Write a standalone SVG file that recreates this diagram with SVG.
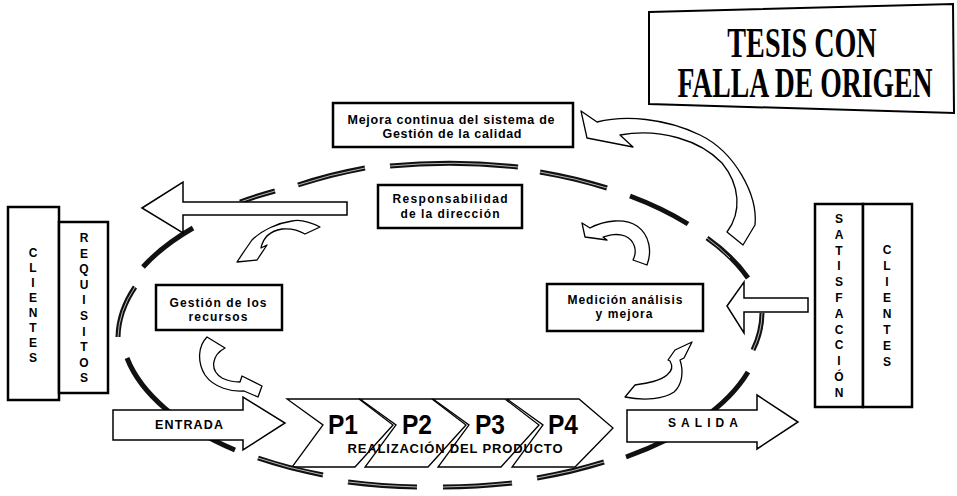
<svg xmlns="http://www.w3.org/2000/svg" width="957" height="496" viewBox="0 0 957 496">
<style>
  .box{fill:#fff;stroke:#000;stroke-width:2.5}
  .arw{fill:#fff;stroke:#000;stroke-width:1.5;stroke-linejoin:miter}
  .cur{fill:#fff;stroke:#000;stroke-width:1.3;stroke-linejoin:round}
  .chev{fill:#fff;stroke:#000;stroke-width:1.3}
  .lbl{font-family:"Liberation Sans",Arial,sans-serif;font-weight:bold;fill:#000;text-anchor:middle}
  .vt{font-family:"Liberation Sans",Arial,sans-serif;font-weight:bold;font-size:12px;fill:#000;text-anchor:middle}
  .pl{font-family:"Liberation Sans",Arial,sans-serif;font-weight:bold;font-size:28px;fill:#000}
  .stamp{font-family:"Liberation Serif","Times New Roman",serif;font-weight:bold;font-size:42px;fill:#000;text-anchor:middle}
  .d{fill:none;stroke:#111;stroke-width:5}
  .dw{fill:none;stroke:#fff;stroke-width:0.7}
</style>
<rect width="957" height="496" fill="#fff"/>

<!-- stamp -->
<g id="stamp">
  <polygon points="649,12 953,4 954,113 649,104" fill="#fff" stroke="#000" stroke-width="2"/>
  <text class="stamp" transform="translate(802,57) scale(0.67,1)" x="0" y="0">TESIS CON</text>
  <text class="stamp" transform="translate(805,97) scale(0.66,1)" x="0" y="0">FALLA DE ORIGEN</text>
</g>

<!-- product realisation chevrons -->
<g id="realizacion">
  <polygon class="chev" points="287,399 359,399 393,425 355,467 292,467 323,425"/>
  <polygon class="chev" points="360,399 432,399 466,425 428,467 365,467 396,425"/>
  <polygon class="chev" points="433,399 505,399 539,425 501,467 438,467 469,425"/>
  <polygon class="chev" points="507,399 579,399 613,428 575,467 512,467 543,425"/>
  <text class="pl" x="328" y="434" textLength="30" lengthAdjust="spacingAndGlyphs">P1</text>
  <text class="pl" x="402" y="434" textLength="30" lengthAdjust="spacingAndGlyphs">P2</text>
  <text class="pl" x="475" y="434" textLength="30" lengthAdjust="spacingAndGlyphs">P3</text>
  <text class="pl" x="548" y="434" textLength="30" lengthAdjust="spacingAndGlyphs">P4</text>
  <text class="lbl" x="455" y="453" font-size="13" textLength="215" lengthAdjust="spacing">REALIZACIÓN DEL PRODUCTO</text>
</g>

<!-- dashed cycle ellipse -->
<g id="connectors">
  <path class="d" d="M298,185 A323,161 0 0,1 365,168"/>
  <path class="d" d="M390,166 A323,161 0 0,1 518,167"/>
  <path class="d" d="M540,172 A323,161 0 0,1 607,188"/>
  <path class="d" d="M630,196 A323,161 0 0,1 688,224"/>
  <path class="d" d="M707,238 A323,161 0 0,1 748,278"/>
  <path class="d" d="M762,313 A323,161 0 0,1 753,350"/>
  <path class="d" d="M748,372 A323,161 0 0,1 626,457"/>
  <path class="d" d="M604,462 A323,161 0 0,1 537,478"/>
  <path class="d" d="M512,483 A323,161 0 0,1 443,487"/>
  <path class="d" d="M417,487 A323,161 0 0,1 348,482"/>
  <path class="d" d="M323,475 A323,161 0 0,1 258,458"/>
  <path class="d" d="M235,450 A323,161 0 0,1 127,358"/>
  <path class="d" d="M118,337 A323,161 0 0,1 135,287"/>
  <path class="d" d="M143,267 A323,161 0 0,1 193,228"/>
  <path class="d" d="M240,202 A323,161 0 0,1 275,191"/>
  <path class="dw" d="M298,185 A323,161 0 0,1 365,168"/>
  <path class="dw" d="M390,166 A323,161 0 0,1 518,167"/>
  <path class="dw" d="M540,172 A323,161 0 0,1 607,188"/>
  <path class="dw" d="M707,238 A323,161 0 0,1 730,258"/>
  <path class="dw" d="M762,313 A323,161 0 0,1 753,350"/>
  <path class="dw" d="M604,462 A323,161 0 0,1 537,478"/>
  <path class="dw" d="M512,483 A323,161 0 0,1 443,487"/>
  <path class="dw" d="M417,487 A323,161 0 0,1 348,482"/>
  <path class="dw" d="M323,475 A323,161 0 0,1 258,458"/>
  <path class="dw" d="M118,337 A323,161 0 0,1 135,287"/>
  <path class="dw" d="M240,202 A323,161 0 0,1 275,191"/>
</g>

<!-- big arrows -->
<g id="arrow-requisitos">
  <polygon class="arw" points="142,208 183,182 183,202 347,202 347,215 183,215 183,233"/>
</g>
<g id="arrow-satisfaccion">
  <polygon class="arw" points="727,306 744,282 744,298 808,298 808,312 744,312 744,333"/>
</g>
<g id="entrada">
  <polygon class="arw" points="113,410 243,410 243,397 285,423 243,450 243,440 113,440"/>
  <text class="lbl" x="189" y="429" font-size="12.5" textLength="68" lengthAdjust="spacing">ENTRADA</text>
</g>
<g id="salida">
  <polygon class="arw" points="627,410 757,410 757,395 798,422 757,449 757,442 627,442"/>
  <text class="lbl" x="703" y="427" font-size="12" textLength="70" lengthAdjust="spacing">SALIDA</text>
</g>

<!-- curved arrows -->
<g id="curved-arrows">
  <path class="cur" d="M581,111 L597,122 C625,115 665,118 700,135 C735,152 758,195 755,225 L743,245 L727,232 C742,212 740,185 722,163 C700,140 660,128 620,135 L633,147 L587,138 Z"/>
  <path class="cur" d="M320,227 C310,222 300,219 292,221 C278,223 262,230 252,240 L245,250 L237,262 L257,260 L267,245 L261,248 C263,238 270,231 282,229 C292,228 300,231 305,234 Z"/>
  <path class="cur" d="M225,348 C212,355 209,370 222,378 C228,381 234,382 240,382 L242,376 L262,386 L258,397 L244,391 C232,392 214,388 205,375 C197,362 198,346 207,337 Z"/>
  <path class="cur" d="M582,223 L590,228 C605,220 625,218 637,226 C650,235 652,252 647,265 L633,260 C638,250 634,240 625,236 C617,233 610,235 603,237 L607,240 L585,237 Z"/>
  <path class="cur" d="M625,397 L635,385 C648,383 660,381 667,375 C672,371 673,366 670,361 L668,360 L675,350 L692,342 L684,358 L680,360 C684,372 682,385 674,392 C664,399 645,401 625,397 Z"/>
</g>

<!-- process boxes -->
<g id="mejora">
  <rect class="box" x="333" y="103" width="240" height="44" stroke-width="3"/>
  <text class="lbl" x="451" y="124" font-size="12.5" textLength="207" lengthAdjust="spacing">Mejora continua del sistema de</text>
  <text class="lbl" x="452" y="138" font-size="12.5" textLength="139" lengthAdjust="spacing">Gestión de la calidad</text>
</g>
<g id="responsabilidad">
  <rect class="box" x="378" y="185" width="144" height="43"/>
  <text class="lbl" x="450" y="203" font-size="12" textLength="115" lengthAdjust="spacing">Responsabilidad</text>
  <text class="lbl" x="450" y="218" font-size="12" textLength="99" lengthAdjust="spacing">de la dirección</text>
</g>
<g id="recursos">
  <rect class="box" x="156" y="285" width="126" height="45"/>
  <text class="lbl" x="218" y="307" font-size="12" textLength="97" lengthAdjust="spacing">Gestión de los</text>
  <text class="lbl" x="218" y="321" font-size="12" textLength="59" lengthAdjust="spacing">recursos</text>
</g>
<g id="medicion">
  <rect class="box" x="547" y="284" width="156" height="47"/>
  <text class="lbl" x="625" y="304" font-size="12" textLength="115" lengthAdjust="spacing">Medición análisis</text>
  <text class="lbl" x="624" y="318" font-size="12" textLength="57" lengthAdjust="spacing">y mejora</text>
</g>

<!-- left side: clients / requirements -->
<g id="clientes-izq">
  <rect class="box" x="8" y="207" width="51" height="193"/>
  <text class="vt" x="33" y="257">C</text>
  <text class="vt" x="33" y="272">L</text>
  <text class="vt" x="33" y="287">I</text>
  <text class="vt" x="33" y="302">E</text>
  <text class="vt" x="33" y="317">N</text>
  <text class="vt" x="33" y="332">T</text>
  <text class="vt" x="33" y="347">E</text>
  <text class="vt" x="33" y="362">S</text>
</g>
<g id="requisitos">
  <rect class="box" x="59" y="222" width="49" height="171"/>
  <text class="vt" x="84" y="242">R</text>
  <text class="vt" x="84" y="257.6">E</text>
  <text class="vt" x="84" y="273.2">Q</text>
  <text class="vt" x="84" y="288.8">U</text>
  <text class="vt" x="84" y="304.4">I</text>
  <text class="vt" x="84" y="320">S</text>
  <text class="vt" x="84" y="335.6">I</text>
  <text class="vt" x="84" y="351.2">T</text>
  <text class="vt" x="84" y="366.8">O</text>
  <text class="vt" x="84" y="382.4">S</text>
</g>

<!-- right side: satisfaction / clients -->
<g id="satisfaccion">
  <rect class="box" x="815" y="204" width="48" height="203"/>
  <text class="vt" x="839" y="223">S</text>
  <text class="vt" x="839" y="238.8">A</text>
  <text class="vt" x="839" y="254.6">T</text>
  <text class="vt" x="839" y="270.4">I</text>
  <text class="vt" x="839" y="286.2">S</text>
  <text class="vt" x="839" y="302">F</text>
  <text class="vt" x="839" y="317.8">A</text>
  <text class="vt" x="839" y="333.6">C</text>
  <text class="vt" x="839" y="349.4">C</text>
  <text class="vt" x="839" y="365.2">I</text>
  <text class="vt" x="839" y="381">Ó</text>
  <text class="vt" x="839" y="396.8">N</text>
</g>
<g id="clientes-der">
  <rect class="box" x="863" y="204" width="49" height="203"/>
  <text class="vt" x="887" y="254">C</text>
  <text class="vt" x="887" y="270">L</text>
  <text class="vt" x="887" y="286">I</text>
  <text class="vt" x="887" y="302">E</text>
  <text class="vt" x="887" y="318">N</text>
  <text class="vt" x="887" y="334">T</text>
  <text class="vt" x="887" y="350">E</text>
  <text class="vt" x="887" y="366">S</text>
</g>
</svg>
